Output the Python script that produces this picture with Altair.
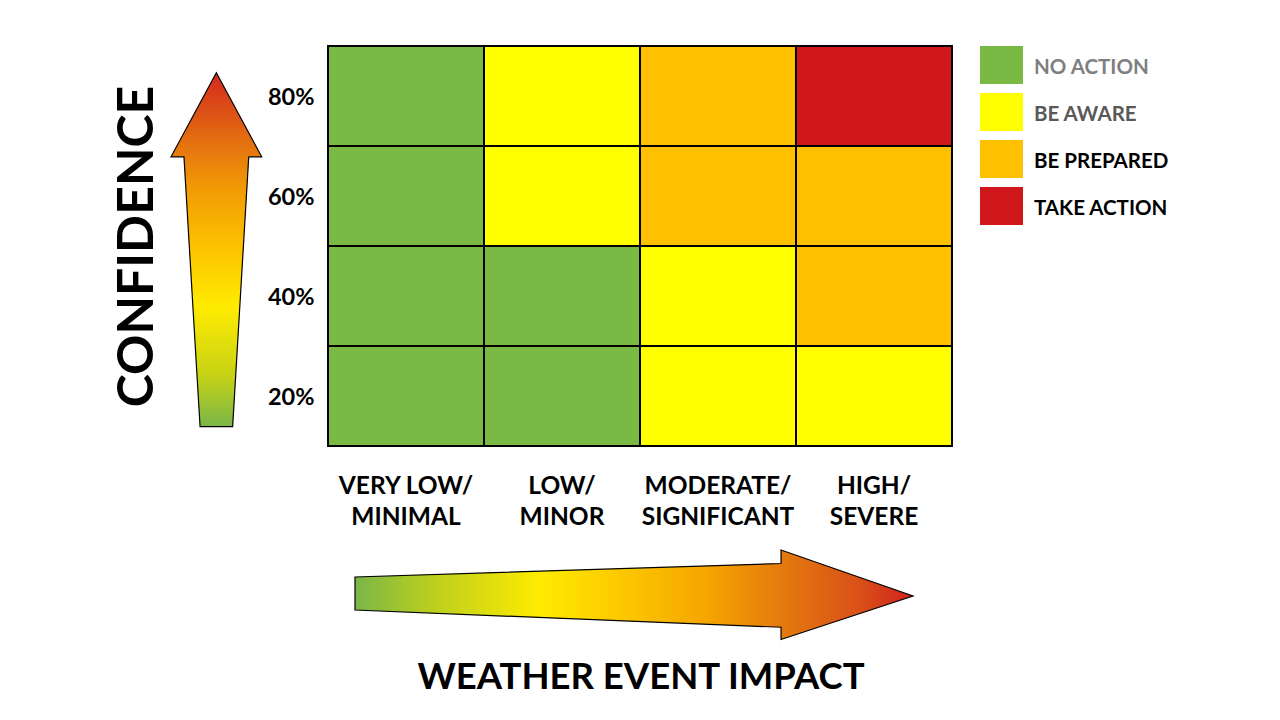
import altair as alt
import pandas as pd

# ---- data ----
impact = ["VERY LOW/\nMINIMAL", "LOW/\nMINOR", "MODERATE/\nSIGNIFICANT", "HIGH/\nSEVERE"]
confidence = ["80%", "60%", "40%", "20%"]  # top to bottom
actions = ["NO ACTION", "BE AWARE", "BE PREPARED", "TAKE ACTION"]
action_colors = ["#7AB943", "#FFFF00", "#FFC000", "#D0181C"]
label_colors = ["#7F7F7F", "#595959", "#000000", "#000000"]

# level per row (confidence) and column (impact)
row_80 = ["NO ACTION", "BE AWARE", "BE PREPARED", "TAKE ACTION"]
row_60 = ["NO ACTION", "BE AWARE", "BE PREPARED", "BE PREPARED"]
row_40 = ["NO ACTION", "NO ACTION", "BE AWARE", "BE PREPARED"]
row_20 = ["NO ACTION", "NO ACTION", "BE AWARE", "BE AWARE"]
grid_rows = [row_80, row_60, row_40, row_20]

cells = []
for conf, row in zip(confidence, grid_rows):
    for imp, lvl in zip(impact, row):
        cells.append({"impact": imp, "confidence": conf, "level": lvl})
cells_df = pd.DataFrame(cells)
legend_df = pd.DataFrame({"action": actions})
one = pd.DataFrame({"k": [0]})

FONT = "Lato"

up_arrow = "M0,-1 L0.256,-0.525 L0.183,-0.525 L0.092,1 L-0.092,1 L-0.183,-0.525 L-0.256,-0.525 Z"
right_arrow = "M-1,-0.0636 L0.527,-0.112 L0.527,-0.1604 L1,0.0045 L0.527,0.1604 L0.527,0.1165 L-1,0.0547 Z"

v_grad = alt.LinearGradient(
    gradient="linear", x1=0, y1=1, x2=0, y2=0,
    stops=[
        alt.GradientStop(offset=0, color="#7AB648"),
        alt.GradientStop(offset=0.15, color="#C9D315"),
        alt.GradientStop(offset=0.34, color="#FFEB00"),
        alt.GradientStop(offset=0.52, color="#FBBF00"),
        alt.GradientStop(offset=0.66, color="#F29E05"),
        alt.GradientStop(offset=0.8, color="#E4720F"),
        alt.GradientStop(offset=1, color="#D2281E"),
    ],
)
h_grad = alt.LinearGradient(
    gradient="linear", x1=0, y1=0, x2=1, y2=0,
    stops=[
        alt.GradientStop(offset=0, color="#7AB648"),
        alt.GradientStop(offset=0.13, color="#B8CD20"),
        alt.GradientStop(offset=0.33, color="#FFEB00"),
        alt.GradientStop(offset=0.5, color="#FBC300"),
        alt.GradientStop(offset=0.63, color="#F5A500"),
        alt.GradientStop(offset=0.77, color="#E4780E"),
        alt.GradientStop(offset=0.9, color="#DA5218"),
        alt.GradientStop(offset=1, color="#D0201E"),
    ],
)

heat = alt.Chart(cells_df).mark_rect(stroke="black", strokeWidth=2).encode(
    x=alt.X(
        "impact:N", sort=impact,
        scale=alt.Scale(paddingInner=0, paddingOuter=0),
        axis=alt.Axis(
            title=None, labelAngle=0, labelAlign="center", ticks=False, domain=False,
            labelExpr="split(datum.label, '\\n')", labelLineHeight=31,
            labelFontSize=24.5, labelFontWeight="bold", labelColor="black",
            labelPadding=28, labelFont=FONT,
        ),
    ),
    y=alt.Y(
        "confidence:N", sort=confidence,
        scale=alt.Scale(paddingInner=0, paddingOuter=0),
        axis=alt.Axis(
            title=None, ticks=False, domain=False, labelFontSize=23.5,
            labelFontWeight="bold", labelColor="black", labelPadding=14, labelFont=FONT,
            labelOffset=2,
        ),
    ),
    color=alt.Color("level:N", scale=alt.Scale(domain=actions, range=action_colors), legend=None),
)

legend_scale = alt.Scale(type="band", range=[0, 179], paddingInner=9 / 47, paddingOuter=0)

legend_boxes = alt.Chart(legend_df).mark_rect().encode(
    x=alt.value(652), x2=alt.value(695),
    y=alt.Y("action:N", sort=actions, scale=legend_scale, axis=None),
    color=alt.Color("action:N", scale=alt.Scale(domain=actions, range=action_colors), legend=None),
)

legend_text = alt.Chart(legend_df).mark_text(
    align="left", baseline="middle", fontSize=20.5, fontWeight="bold", font=FONT, dy=2.5
).encode(
    x=alt.value(706),
    y=alt.Y("action:N", sort=actions, bandPosition=0.5, scale=legend_scale, axis=None),
    text="action:N",
    color=alt.Color("action:N", scale=alt.Scale(domain=actions, range=label_colors), legend=None),
)

v_arrow = alt.Chart(one).mark_point(
    shape=up_arrow, size=354 * 354, filled=True, fill=v_grad, stroke="black",
    strokeWidth=1.2, opacity=1, fillOpacity=1, strokeOpacity=1,
).encode(x=alt.value(-111.65), y=alt.value(203.7))

h_arrow = alt.Chart(one).mark_point(
    shape=right_arrow, size=558 * 558, filled=True, fill=h_grad, stroke="black",
    strokeWidth=1.2, opacity=1, fillOpacity=1, strokeOpacity=1,
).encode(x=alt.value(306), y=alt.value(548.75))

conf_title = alt.Chart(one).mark_text(
    text="CONFIDENCE", angle=270, fontSize=50, fontWeight="bold", font=FONT,
    align="center", baseline="middle", color="black",
).encode(x=alt.value(-190), y=alt.value(200.5))

impact_title = alt.Chart(one).mark_text(
    text="WEATHER EVENT IMPACT", fontSize=36.5, fontWeight="bold", font=FONT,
    align="center", baseline="alphabetic", color="black",
).encode(x=alt.value(313), y=alt.value(642.5))

chart = alt.layer(
    heat, legend_boxes, legend_text, v_arrow, h_arrow, conf_title, impact_title
).resolve_scale(
    y="independent", color="independent"
).properties(
    width=624, height=400,
    autosize=alt.AutoSizeParams(type="none"),
    padding={"left": 320, "top": 38, "right": 320, "bottom": 266},
    background="white",
).configure_view(
    stroke="black", strokeWidth=3
).configure(font=FONT)

chart.save("out.html", embed_options={"renderer": "svg", "actions": False})
